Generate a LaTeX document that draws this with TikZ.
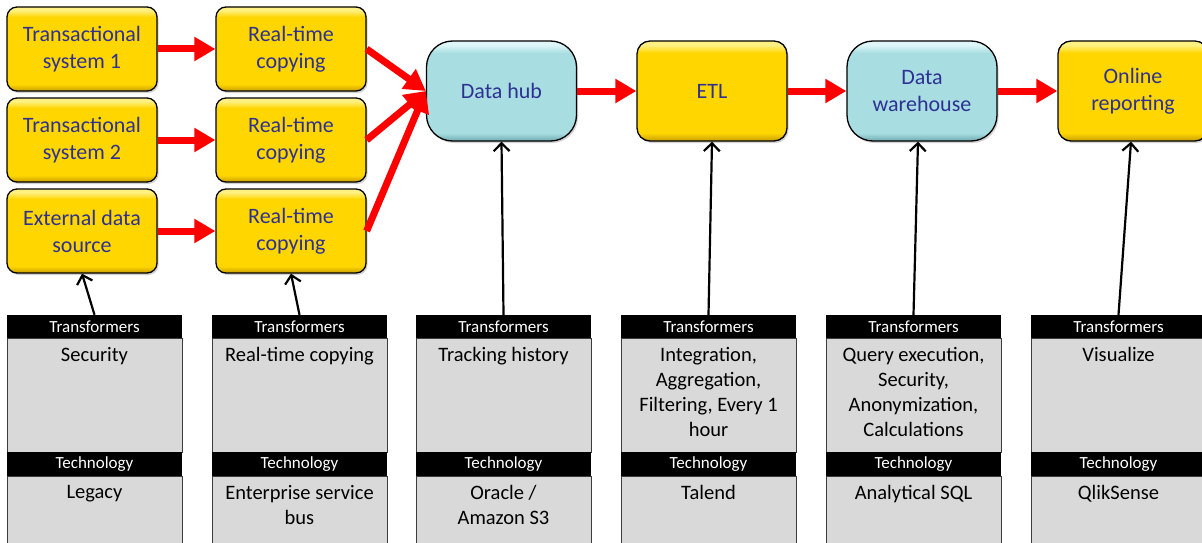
\documentclass[tikz,border=0pt]{standalone}
\usepackage{fontspec}
\setmainfont{Carlito}
\usetikzlibrary{arrows.meta,shadows}

\definecolor{boxgold}{RGB}{255,214,0}
\definecolor{ydark}{RGB}{200,158,0}
\definecolor{ylight}{RGB}{255,240,130}
\definecolor{hubcyan}{RGB}{168,222,226}
\definecolor{cdark}{RGB}{110,170,176}
\definecolor{clight}{RGB}{222,246,248}
\definecolor{txtblue}{RGB}{46,49,146}
\definecolor{tablegray}{RGB}{217,217,217}
\definecolor{tableedge}{RGB}{60,60,60}

\pgfdeclareverticalshading{yellowbevel}{100bp}{color(0bp)=(ydark); color(25bp)=(ydark); color(29bp)=(boxgold); color(69bp)=(boxgold); color(73bp)=(ylight); color(100bp)=(ylight)}
\pgfdeclareverticalshading{cyanbevel}{100bp}{color(0bp)=(cdark); color(25bp)=(cdark); color(29bp)=(hubcyan); color(69bp)=(hubcyan); color(73bp)=(clight); color(100bp)=(clight)}

\tikzset{
  boxbase/.style={draw=black, line width=1.3pt, text=txtblue, align=center,
    font=\fontsize{22}{27}\selectfont, minimum width=150pt,
    drop shadow={shadow xshift=1.5pt, shadow yshift=-2pt, opacity=0.35}},
  srcbox/.style={boxbase, shading=yellowbevel, rounded corners=10pt, minimum height=84pt},
  stagebox/.style={boxbase, shading=yellowbevel, rounded corners=13pt, minimum height=100pt},
  storebox/.style={boxbase, shading=cyanbevel, rounded corners=26pt, minimum height=100pt},
  redarrow/.style={draw=red, line width=7pt, -{Triangle[length=21pt,width=23pt]}},
  blackarrow/.style={draw=black, line width=2.2pt, -{Straight Barb[length=8pt,width=16pt]}},
  tabhead/.style={fill=black, text=white, minimum width=175pt, inner sep=0pt,
    font=\fontsize{17}{20}\selectfont},
  tabbody/.style={fill=tablegray, draw=tableedge, line width=0.8pt, minimum width=175pt, inner sep=0pt},
  tabtext/.style={anchor=north, align=center, inner sep=2pt, text=black,
    font=\fontsize{20.5}{25}\selectfont}
}

\begin{document}
\begin{tikzpicture}[x=1pt, y=-1pt]
\useasboundingbox (0,0) rectangle (1202,543);
\fill[white] (0,0) rectangle (1202,543);

% source boxes
\node[srcbox] (s1) at (82,49) {Transactional\\system 1};
\node[srcbox] (s2) at (82,140) {Transactional\\system 2};
\node[srcbox] (s3) at (82,231) {External data\\source};
\node[srcbox] (r1) at (291,49) {Real-time\\copying};
\node[srcbox] (r2) at (291,140) {Real-time\\copying};
\node[srcbox] (r3) at (291,231) {Real-time\\copying};

% pipeline boxes
\node[storebox] (hub) at (501.5,91) {Data hub};
\node[stagebox] (etl) at (712,91) {ETL};
\node[storebox] (dw) at (922,91) {Data\\warehouse};
\node[stagebox] (rep) at (1133,91) {Online\\reporting};

% red arrows
\draw[redarrow] (s1.east) -- (r1.west);
\draw[redarrow] (s2.east) -- (r2.west);
\draw[redarrow] (s3.east) -- (r3.west);
\draw[redarrow] (r1.east) -- (hub.west);
\draw[redarrow] (r2.east) -- (hub.west);
\draw[redarrow] (r3.east) -- (hub.west);
\draw[redarrow] (hub.east) -- (etl.west);
\draw[redarrow] (etl.east) -- (dw.west);
\draw[redarrow] (dw.east) -- (rep.west);

% tables
\foreach \n/\cx/\ta/\tb in {
  1/94.5/{Security}/{Legacy},
  2/299.5/{Real-time copying}/{Enterprise service\\bus},
  3/503.5/{Tracking history}/{Oracle /\\Amazon S3},
  4/708.5/{Integration,\\Aggregation,\\Filtering, Every 1\\hour}/{Talend},
  5/913.5/{Query execution,\\Security,\\Anonymization,\\Calculations}/{Analytical SQL},
  6/1118.5/{Visualize}/{QlikSense}} {
  \node[tabbody, minimum height=114pt] (ba\n) at (\cx,395) {};
  \node[tabbody, minimum height=90pt] (bb\n) at (\cx,521) {};
  \node[tabhead, minimum height=23pt] (ha\n) at (\cx,326.5) {Transformers};
  \node[tabhead, minimum height=24pt] (hb\n) at (\cx,464) {Technology};
  \node[tabtext] (ta\n) at (\cx,345) {\ta};
  \node[tabtext] (tb\n) at (\cx,483) {\tb};
}

% black arrows
\draw[blackarrow] (ha1.north) -- (s3.south);
\draw[blackarrow] (ha2.north) -- (r3.south);
\draw[blackarrow] (ha3.north) -- (hub.south);
\draw[blackarrow] (ha4.north) -- (etl.south);
\draw[blackarrow] (ha5.north) -- ([xshift=-4pt]dw.south);
\draw[blackarrow] (ha6.north) -- ([xshift=-2pt]rep.south);
\end{tikzpicture}
\end{document}
